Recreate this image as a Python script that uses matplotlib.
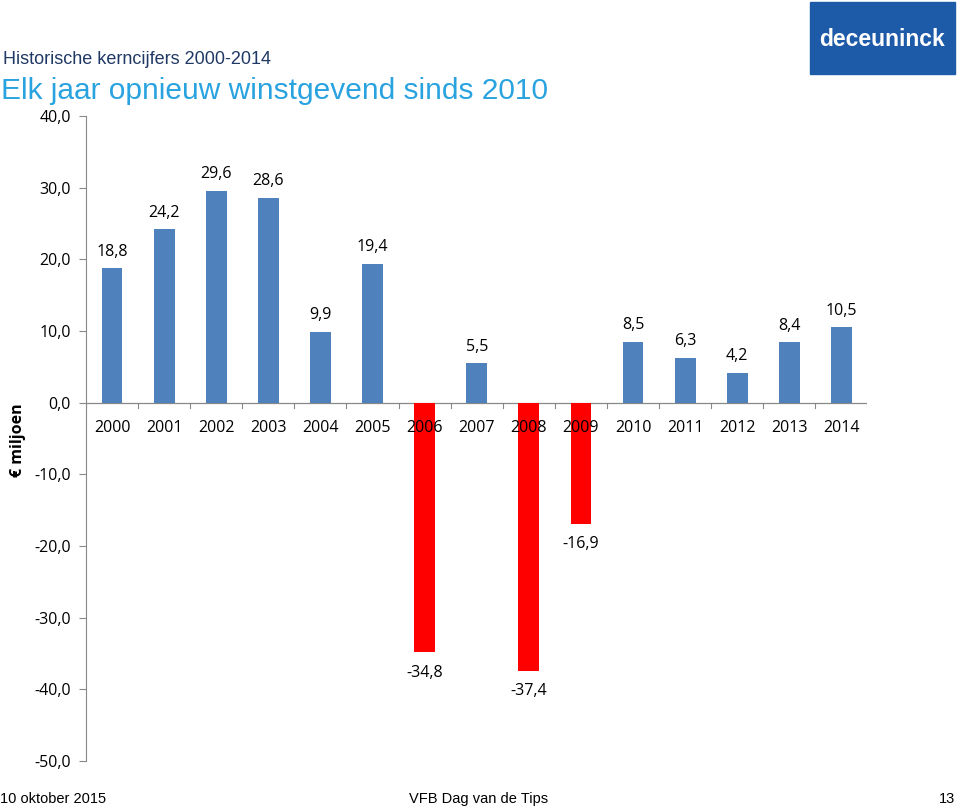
import matplotlib.pyplot as plt
from matplotlib.patches import Rectangle

years = ['2000', '2001', '2002', '2003', '2004', '2005', '2006', '2007',
         '2008', '2009', '2010', '2011', '2012', '2013', '2014']
values = [18.8, 24.2, 29.6, 28.6, 9.9, 19.4, -34.8, 5.5,
          -37.4, -16.9, 8.5, 6.3, 4.2, 8.4, 10.5]
y_ticks = [40, 30, 20, 10, 0, -10, -20, -30, -40, -50]

def fmt(v):
    return f'{v:.1f}'.replace('.', ',')

fig = plt.figure(figsize=(9.6, 8.09), dpi=100)
ax = fig.add_axes([0.0896, 0.0593, 0.814, 0.7973])

x = list(range(len(years)))
colors = ['#4f81bd' if v >= 0 else '#ff0000' for v in values]
ax.bar(x, values, width=0.4, color=colors, zorder=2)

for xi, v in zip(x, values):
    if v >= 0:
        ax.annotate(fmt(v), (xi, v), xytext=(0, 6), textcoords='offset points',
                    ha='center', va='bottom', fontsize=11.5, family='Open Sans')
    else:
        ax.annotate(fmt(v), (xi, v), xytext=(0, -9), textcoords='offset points',
                    ha='center', va='top', fontsize=11.5, family='Open Sans')

ax.set_xlim(-0.5, len(years) - 0.5)
ax.set_ylim(-50, 40)
ax.set_yticks(y_ticks)
ax.set_yticklabels([fmt(t) for t in y_ticks], fontsize=11.5, family='Open Sans')
ax.tick_params(axis='y', length=5, color='#888888', pad=6)

# category labels sit just under the zero line
ax.set_xticks([])
for xi, yr in zip(x, years):
    ax.text(xi, -2.4, yr, ha='center', va='top', fontsize=11.5,
            family='Open Sans', zorder=3)
for b in range(len(years) + 1):
    ax.plot([b - 0.5, b - 0.5], [0, -0.7], color='#888888', lw=0.8, zorder=1)
ax.axhline(0, color='#888888', lw=0.9, zorder=1)

for s in ['top', 'right', 'bottom']:
    ax.spines[s].set_visible(False)
ax.spines['left'].set_color('#888888')

fig.text(0.019, 0.456, '€ miljoen', rotation=90, ha='center', va='center',
         fontsize=11.5, fontweight='bold', family='Open Sans')

# headers
fig.text(0.003, 0.921, 'Historische kerncijfers 2000-2014', fontsize=13,
         color='#1f3864', family='Liberation Sans', va='baseline')
fig.text(0.001, 0.878, 'Elk jaar opnieuw winstgevend sinds 2010', fontsize=21.5,
         color='#29a3e0', family='Liberation Sans', va='baseline')

# logo
fig.patches.append(Rectangle((810 / 960, 1 - 74 / 809), 145 / 960, 72 / 809,
                             transform=fig.transFigure, color='#1d5aa8'))
fig.text(882 / 960, 1 - 39 / 809, 'deceuninck', ha='center', va='center',
         color='white', fontsize=16.5, fontweight='bold', family='Liberation Sans')

# footer
fig.text(0.0, 0.004, '10 oktober 2015', fontsize=10.5, family='Liberation Sans', va='bottom')
fig.text(0.498, 0.004, 'VFB Dag van de Tips', fontsize=10.5, family='Liberation Sans',
         va='bottom', ha='center')
fig.text(0.995, 0.004, '13', fontsize=10.5, family='Liberation Sans', va='bottom', ha='right')

fig.savefig('out.png', dpi=100)
